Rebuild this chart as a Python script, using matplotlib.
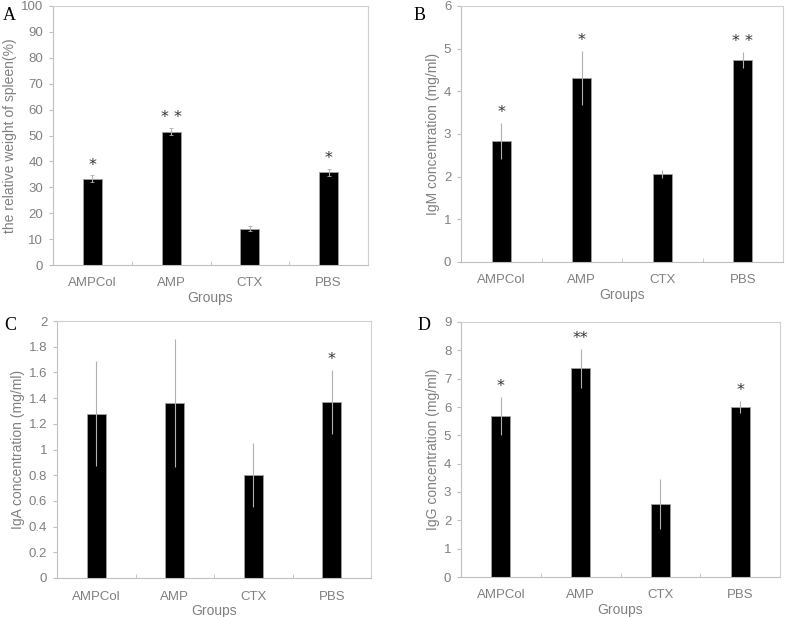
import matplotlib
matplotlib.use("Agg")
import matplotlib.pyplot as plt
import numpy as np
from matplotlib.ticker import FixedLocator, NullFormatter

groups = ["AMPCol", "AMP", "CTX", "PBS"]

spleen = [33.3, 51.5, 14.0, 35.8]
spleen_err = [1.3, 1.3, 1.0, 1.3]
spleen_sig = ["*", "* *", "", "*"]

igm = [2.84, 4.31, 2.06, 4.74]
igm_err = [0.42, 0.63, 0.09, 0.19]
igm_sig = ["*", "*", "", "* *"]

iga = [1.28, 1.36, 0.80, 1.37]
iga_err = [0.41, 0.50, 0.25, 0.25]
iga_sig = ["", "", "", "*"]

igg = [5.69, 7.37, 2.59, 6.01]
igg_err = [0.68, 0.69, 0.88, 0.21]
igg_sig = ["*", "**", "", "*"]

W, H = 787, 617
fig = plt.figure(figsize=(W / 100, H / 100), dpi=100)
plt.rcParams['font.family'] = ['Liberation Sans', 'DejaVu Sans']

TXT = '#808080'
EDGE = '#bfbfbf'


def px_axes(l, t, r, b):
    return fig.add_axes([l / W, 1 - b / H, (r - l) / W, (b - t) / H])


def panel(ax, vals, errs, sigs, ymax, ystep, ylabel, letter, letter_xy, fmt, cap=0.0):
    x = np.arange(len(groups))
    ax.bar(x, vals, width=0.24, color='black', edgecolor='#a0a0a0', linewidth=0.6, zorder=2)
    ax.errorbar(x, vals, yerr=errs, fmt='none', ecolor='#b0b0b0', elinewidth=0.8,
                capsize=cap, capthick=0.6, zorder=3)
    for xi, v, e, s in zip(x, vals, errs, sigs):
        if s:
            ax.annotate(s, (xi, v + e), xytext=(0, 2), textcoords='offset points',
                        ha='center', va='bottom', fontsize=11.5, color='#333333',
                        family='DejaVu Sans')
    ax.set_xlim(-0.5, 3.5)
    ax.set_ylim(0, ymax)
    ticks = np.arange(0, ymax + ystep / 2, ystep)
    ax.set_yticks(ticks)
    ax.set_yticklabels([fmt(t) for t in ticks])
    ax.set_xticks(x)
    ax.set_xticklabels(groups)
    ax.xaxis.set_minor_locator(FixedLocator([0.5, 1.5, 2.5]))
    ax.xaxis.set_minor_formatter(NullFormatter())
    ax.tick_params(axis='x', which='major', length=0, pad=9, labelsize=9.5, labelcolor=TXT)
    ax.tick_params(axis='x', which='minor', length=3, color=EDGE, direction='in')
    ax.tick_params(axis='y', length=3, color=EDGE, labelsize=9.5, labelcolor=TXT, pad=4)
    for sp in ax.spines.values():
        sp.set_color('#d0d0d0')
        sp.set_linewidth(0.8)
    ax.spines['left'].set_color(EDGE)
    ax.spines['bottom'].set_color(EDGE)
    ax.set_xlabel("Groups", fontsize=10, color=TXT, labelpad=1)
    ax.set_ylabel(ylabel, fontsize=10, color=TXT, labelpad=3)
    fig.text(letter_xy[0] / W, 1 - letter_xy[1] / H, letter, fontsize=13,
             family='Liberation Serif', ha='left', va='center')


def int_fmt(t):
    return "%d" % round(t)


def dec_fmt(t):
    return ("%.1f" % t).rstrip('0').rstrip('.') if t else "0"


axA = px_axes(53, 6, 368, 265)
panel(axA, spleen, spleen_err, spleen_sig, 100, 10, "the relative weight of spleen(%)", "A", (3, 16), int_fmt, cap=1.5)

axB = px_axes(461, 6, 783, 262)
panel(axB, igm, igm_err, igm_sig, 6, 1, "IgM concentration (mg/ml)", "B", (414, 16), int_fmt)

axC = px_axes(57, 321, 371, 578)
panel(axC, iga, iga_err, iga_sig, 2, 0.2, "IgA concentration (mg/ml)", "C", (4, 325), dec_fmt)

axD = px_axes(461, 322, 780, 577)
panel(axD, igg, igg_err, igg_sig, 9, 1, "IgG concentration (mg/ml)", "D", (418, 325), int_fmt)

fig.savefig("out.png", dpi=100)
